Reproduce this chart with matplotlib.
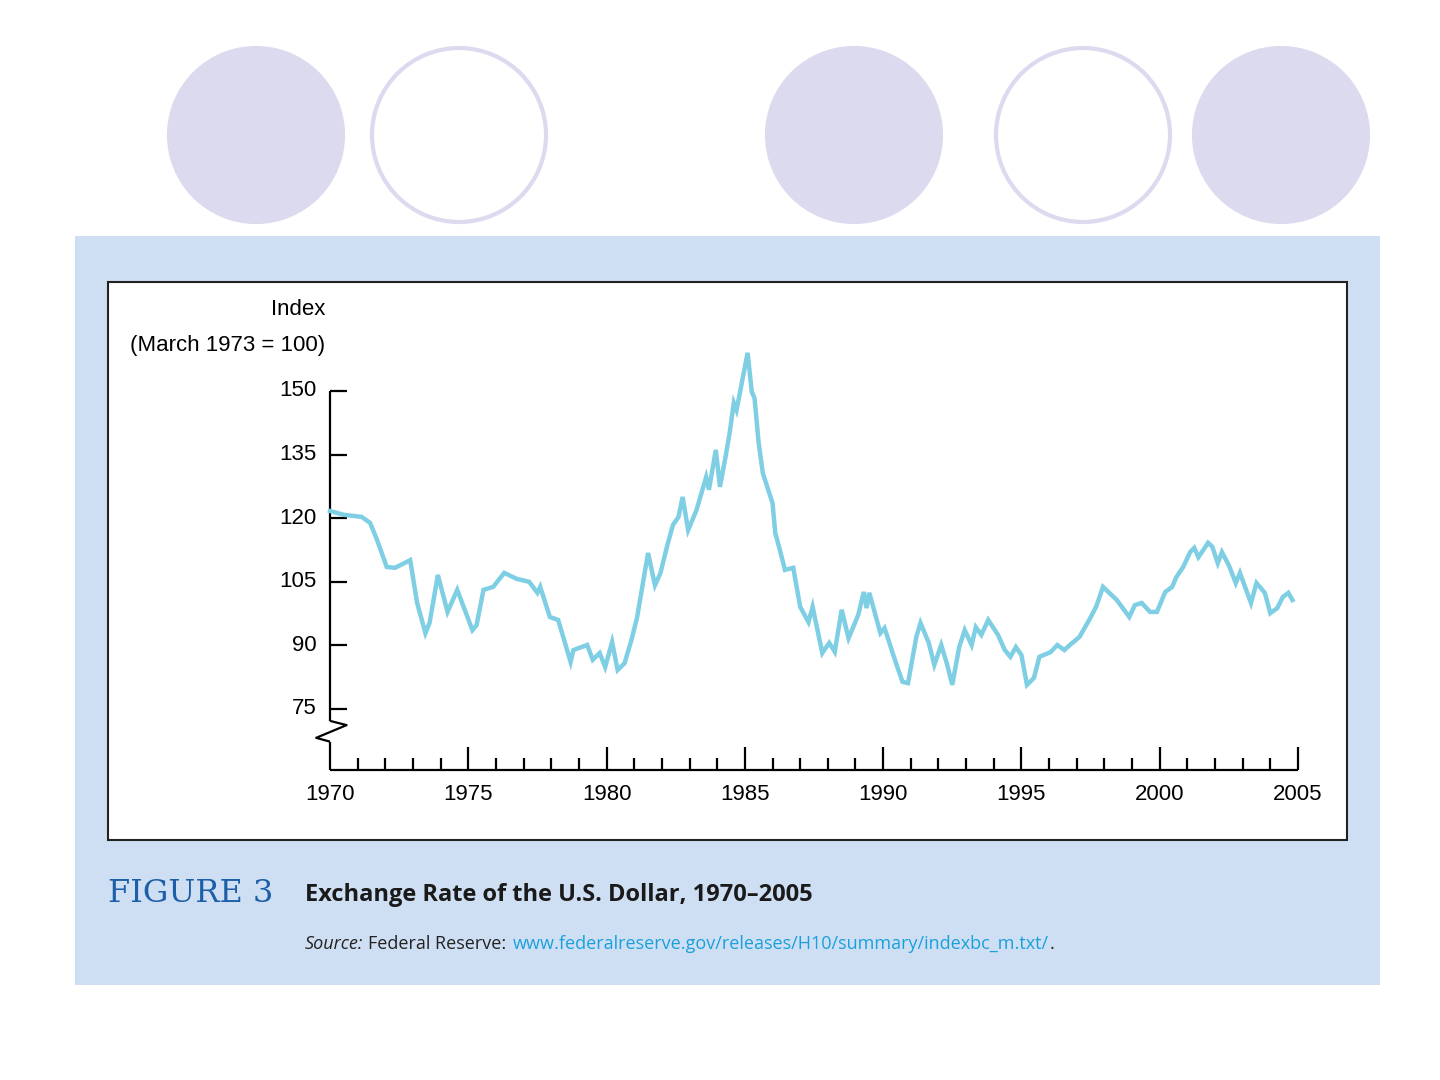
import numpy as np
import matplotlib.pyplot as plt
from matplotlib.patches import Circle, Rectangle

years = [1970.0, 1970.5, 1971.15, 1971.45, 1971.7, 1972.05, 1972.35, 1972.9, 1973.15, 1973.45,
         1973.6, 1973.9, 1974.25, 1974.6, 1975.15, 1975.3, 1975.55, 1975.9, 1976.3, 1976.75,
         1977.2, 1977.5, 1977.6, 1977.95, 1978.25, 1978.7, 1978.8, 1979.3, 1979.5, 1979.75,
         1979.95, 1980.2, 1980.4, 1980.65, 1980.9, 1981.1, 1981.5, 1981.75, 1981.95, 1982.2,
         1982.4, 1982.6, 1982.75, 1982.95, 1983.25, 1983.6, 1983.7, 1983.95, 1984.1, 1984.3,
         1984.45, 1984.6, 1984.7, 1985.1, 1985.25, 1985.35, 1985.5, 1985.65, 1986.0, 1986.1,
         1986.25, 1986.45, 1986.75, 1987.0, 1987.3, 1987.45, 1987.8, 1988.05, 1988.25, 1988.5,
         1988.75, 1989.1, 1989.3, 1989.4, 1989.5, 1989.9, 1990.05, 1990.45, 1990.7, 1990.9,
         1991.2, 1991.35, 1991.65, 1991.85, 1992.1, 1992.3, 1992.5, 1992.75, 1992.95, 1993.2,
         1993.35, 1993.55, 1993.8, 1994.15, 1994.4, 1994.6, 1994.8, 1995.0, 1995.2, 1995.45,
         1995.65, 1996.05, 1996.3, 1996.55, 1996.75, 1997.1, 1997.45, 1997.7, 1997.95, 1998.45,
         1998.9, 1999.1, 1999.35, 1999.65, 1999.9, 2000.2, 2000.45, 2000.6, 2000.85, 2001.1,
         2001.25, 2001.4, 2001.75, 2001.9, 2002.1, 2002.25, 2002.5, 2002.75, 2002.9, 2003.3,
         2003.5, 2003.8, 2004.0, 2004.25, 2004.45, 2004.65, 2004.8]
index = [121.7, 120.8, 120.3, 118.9, 114.9, 108.5, 108.3, 110.1, 100.0, 92.9,
         95.3, 106.6, 97.9, 103.1, 93.6, 94.8, 103.1, 103.8, 107.1, 105.7,
         105.0, 102.4, 103.8, 96.7, 96.0, 86.1, 88.9, 90.1, 86.6, 88.2,
         84.9, 90.8, 84.2, 85.8, 91.3, 96.5, 111.8, 104.2, 107.1, 113.7,
         118.4, 120.3, 125.0, 117.2, 121.9, 129.7, 126.7, 136.1, 127.4, 134.4,
         140.1, 147.2, 145.5, 159.0, 149.8, 148.3, 137.7, 130.6, 123.6, 116.5,
         112.9, 107.8, 108.3, 99.1, 95.5, 99.1, 88.2, 90.6, 88.5, 98.4,
         91.7, 97.2, 102.6, 98.8, 102.4, 92.9, 94.1, 86.1, 81.4, 81.1,
         92.0, 95.3, 90.6, 85.4, 90.1, 85.8, 80.7, 89.6, 93.6, 90.1,
         94.3, 92.5, 96.0, 92.5, 88.9, 87.3, 89.6, 87.7, 80.7, 82.3,
         87.3, 88.4, 90.1, 88.9, 90.1, 92.0, 96.0, 99.1, 103.8, 100.7,
         96.7, 99.5, 100.0, 97.9, 97.9, 102.6, 103.8, 106.1, 108.5, 112.0,
         113.0, 110.8, 114.2, 113.3, 109.4, 112.0, 108.9, 104.7, 107.1, 100.0,
         104.7, 102.4, 97.6, 98.8, 101.4, 102.4, 100.7]
y_ticks = [75, 90, 105, 120, 135, 150]
x_labels = [1970, 1975, 1980, 1985, 1990, 1995, 2000, 2005]

W, H = 1440, 1080
fig = plt.figure(figsize=(14.4, 10.8), dpi=100)
plt.rcParams['font.family'] = ['Liberation Sans', 'DejaVu Sans']

def fx(px):
    return px / W

def fy(py):
    return 1 - py / H

# decorative circles
circle_fill = '#dcdaee'
for cx, filled in [(256, True), (459, False), (854, True), (1083, False), (1281, True)]:
    fig.add_artist(Circle((cx / 100, (H - 135) / 100), 0.87, transform=fig.dpi_scale_trans,
                          facecolor=circle_fill if filled else 'white',
                          edgecolor=circle_fill, lw=3))

# panel and chart box
fig.add_artist(Rectangle((fx(75), fy(985)), fx(1380) - fx(75), fy(236) - fy(985),
                         transform=fig.transFigure, facecolor='#cfdff3', edgecolor='none'))
fig.add_artist(Rectangle((fx(108), fy(840)), fx(1347) - fx(108), fy(282) - fy(840),
                         transform=fig.transFigure, facecolor='white', edgecolor='#222222', lw=1.5))

# axes: left at 1970, right at 2005, top = 150, bottom = axis line
ax = fig.add_axes([fx(330), fy(770), fx(1298) - fx(330), fy(391) - fy(770)])
ax.set_zorder(5)
ax.set_xlim(1970, 2005)
ymin = 75 - (770 - 709) / ((709 - 391) / 75)
ax.set_ylim(ymin, 150)
ax.patch.set_visible(False)
for s in ax.spines.values():
    s.set_visible(False)
ax.set_xticks([])
ax.set_yticks([])

ax.plot(years, index, color='#7ecee4', lw=3.2, solid_joinstyle='miter', zorder=3, clip_on=False)

k = dict(color='black', lw=1.6, clip_on=False, solid_capstyle='butt')
# x axis
ax.plot([1970, 2005], [ymin, ymin], **k)
for yr in range(1971, 2006):
    h = 5.5 if yr % 5 == 0 else 2.8
    ax.plot([yr, yr], [ymin, ymin + h], **k)
for yr in x_labels:
    ax.text(yr, ymin - 3.2, str(yr), ha='center', va='top', fontsize=16, stretch='condensed')
# y axis with break
ybreak_top = 72.2
ax.plot([1970, 1970], [ybreak_top, 150], **k)
ax.plot([1970, 1970], [ymin, 67.3], **k)
zx = [1970, 1970.6, 1969.5, 1970]
zy = [ybreak_top, 71.2, 68.2, 67.3]
ax.plot(zx, zy, **k)
for t in y_ticks:
    ax.plot([1970, 1970.6], [t, t], **k)
    ax.text(1969.5, t, str(t), ha='right', va='center', fontsize=16)

fig.text(fx(298), fy(310), 'Index', ha='center', va='center', fontsize=16)
fig.text(fx(228), fy(346), '(March 1973 = 100)', ha='center', va='center', fontsize=16)

# caption
fig.text(fx(108), fy(893), 'FIGURE 3', color='#1d5ea8', fontsize=23,
         family=['DejaVu Serif'], va='center', ha='left')
fig.text(fx(305), fy(895), 'Exchange Rate of the U.S. Dollar, 1970\u20132005', fontsize=17,
         weight='bold', family=['Open Sans', 'DejaVu Sans'], va='center', ha='left', color='#1a1a1a')
fig.text(fx(305), fy(944), 'Source:', fontsize=13, style='italic',
         family=['Open Sans', 'DejaVu Sans'], va='center', ha='left', color='#222222')
fig.text(fx(368), fy(944), 'Federal Reserve:', fontsize=13,
         family=['Open Sans', 'DejaVu Sans'], va='center', ha='left', color='#222222')
fig.text(fx(513), fy(944), 'www.federalreserve.gov/releases/H10/summary/indexbc_m.txt/', fontsize=13,
         family=['Open Sans', 'DejaVu Sans'], va='center', ha='left', color='#1aa0dc')
fig.text(fx(1050), fy(944), '.', fontsize=13,
         family=['Open Sans', 'DejaVu Sans'], va='center', ha='left', color='#222222')

fig.savefig('out.png', dpi=100)
